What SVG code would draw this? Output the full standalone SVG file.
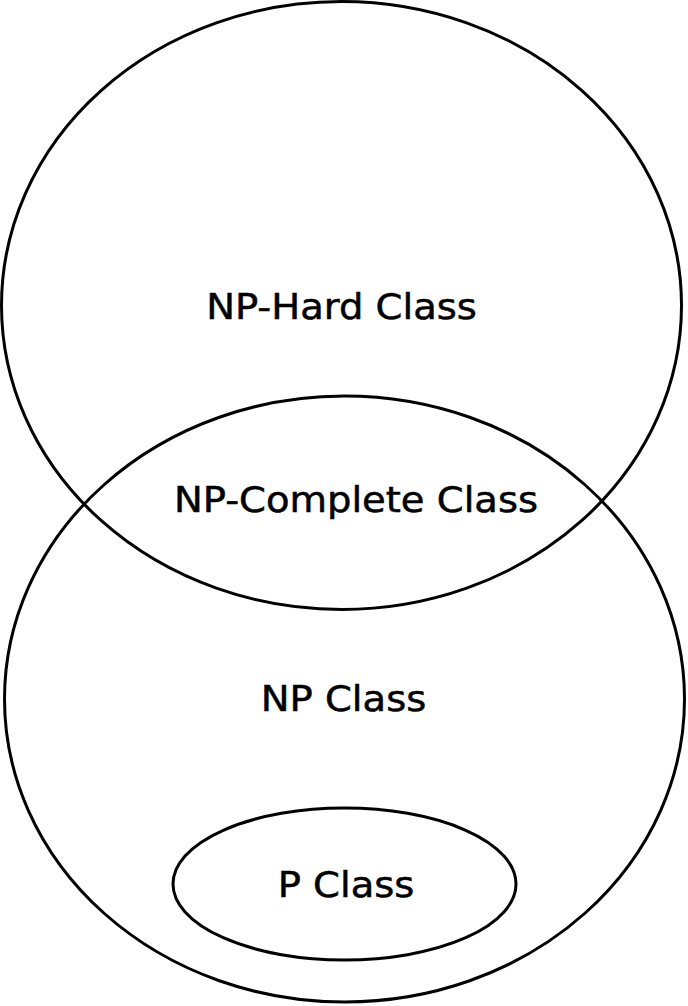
<svg xmlns="http://www.w3.org/2000/svg" width="688" height="1006" viewBox="0 0 688 1006">
<style>
.set{fill:none;stroke:#000;stroke-width:3}
.lbl{font-family:"DejaVu Sans",sans-serif;font-size:35px;fill:#000;stroke:#000;stroke-width:0.5;text-anchor:middle}
</style>
<rect width="688" height="1006" fill="#fff"/>
<g id="np-hard">
<ellipse class="set" cx="341.5" cy="305.5" rx="340" ry="304"/>
<text class="lbl" transform="translate(341.5,319) scale(1.1,1)">NP-Hard Class</text>
</g>
<g id="np">
<ellipse class="set" cx="344.5" cy="699" rx="340" ry="303"/>
<text class="lbl" transform="translate(343.5,711) scale(1.1,1)">NP Class</text>
</g>
<g id="np-complete">
<text class="lbl" transform="translate(356,512) scale(1.1,1)">NP-Complete Class</text>
</g>
<g id="p">
<ellipse class="set" cx="344.5" cy="884" rx="171.5" ry="76"/>
<text class="lbl" transform="translate(346,897) scale(1.1,1)">P Class</text>
</g>
<g id="connectors"/>
</svg>
